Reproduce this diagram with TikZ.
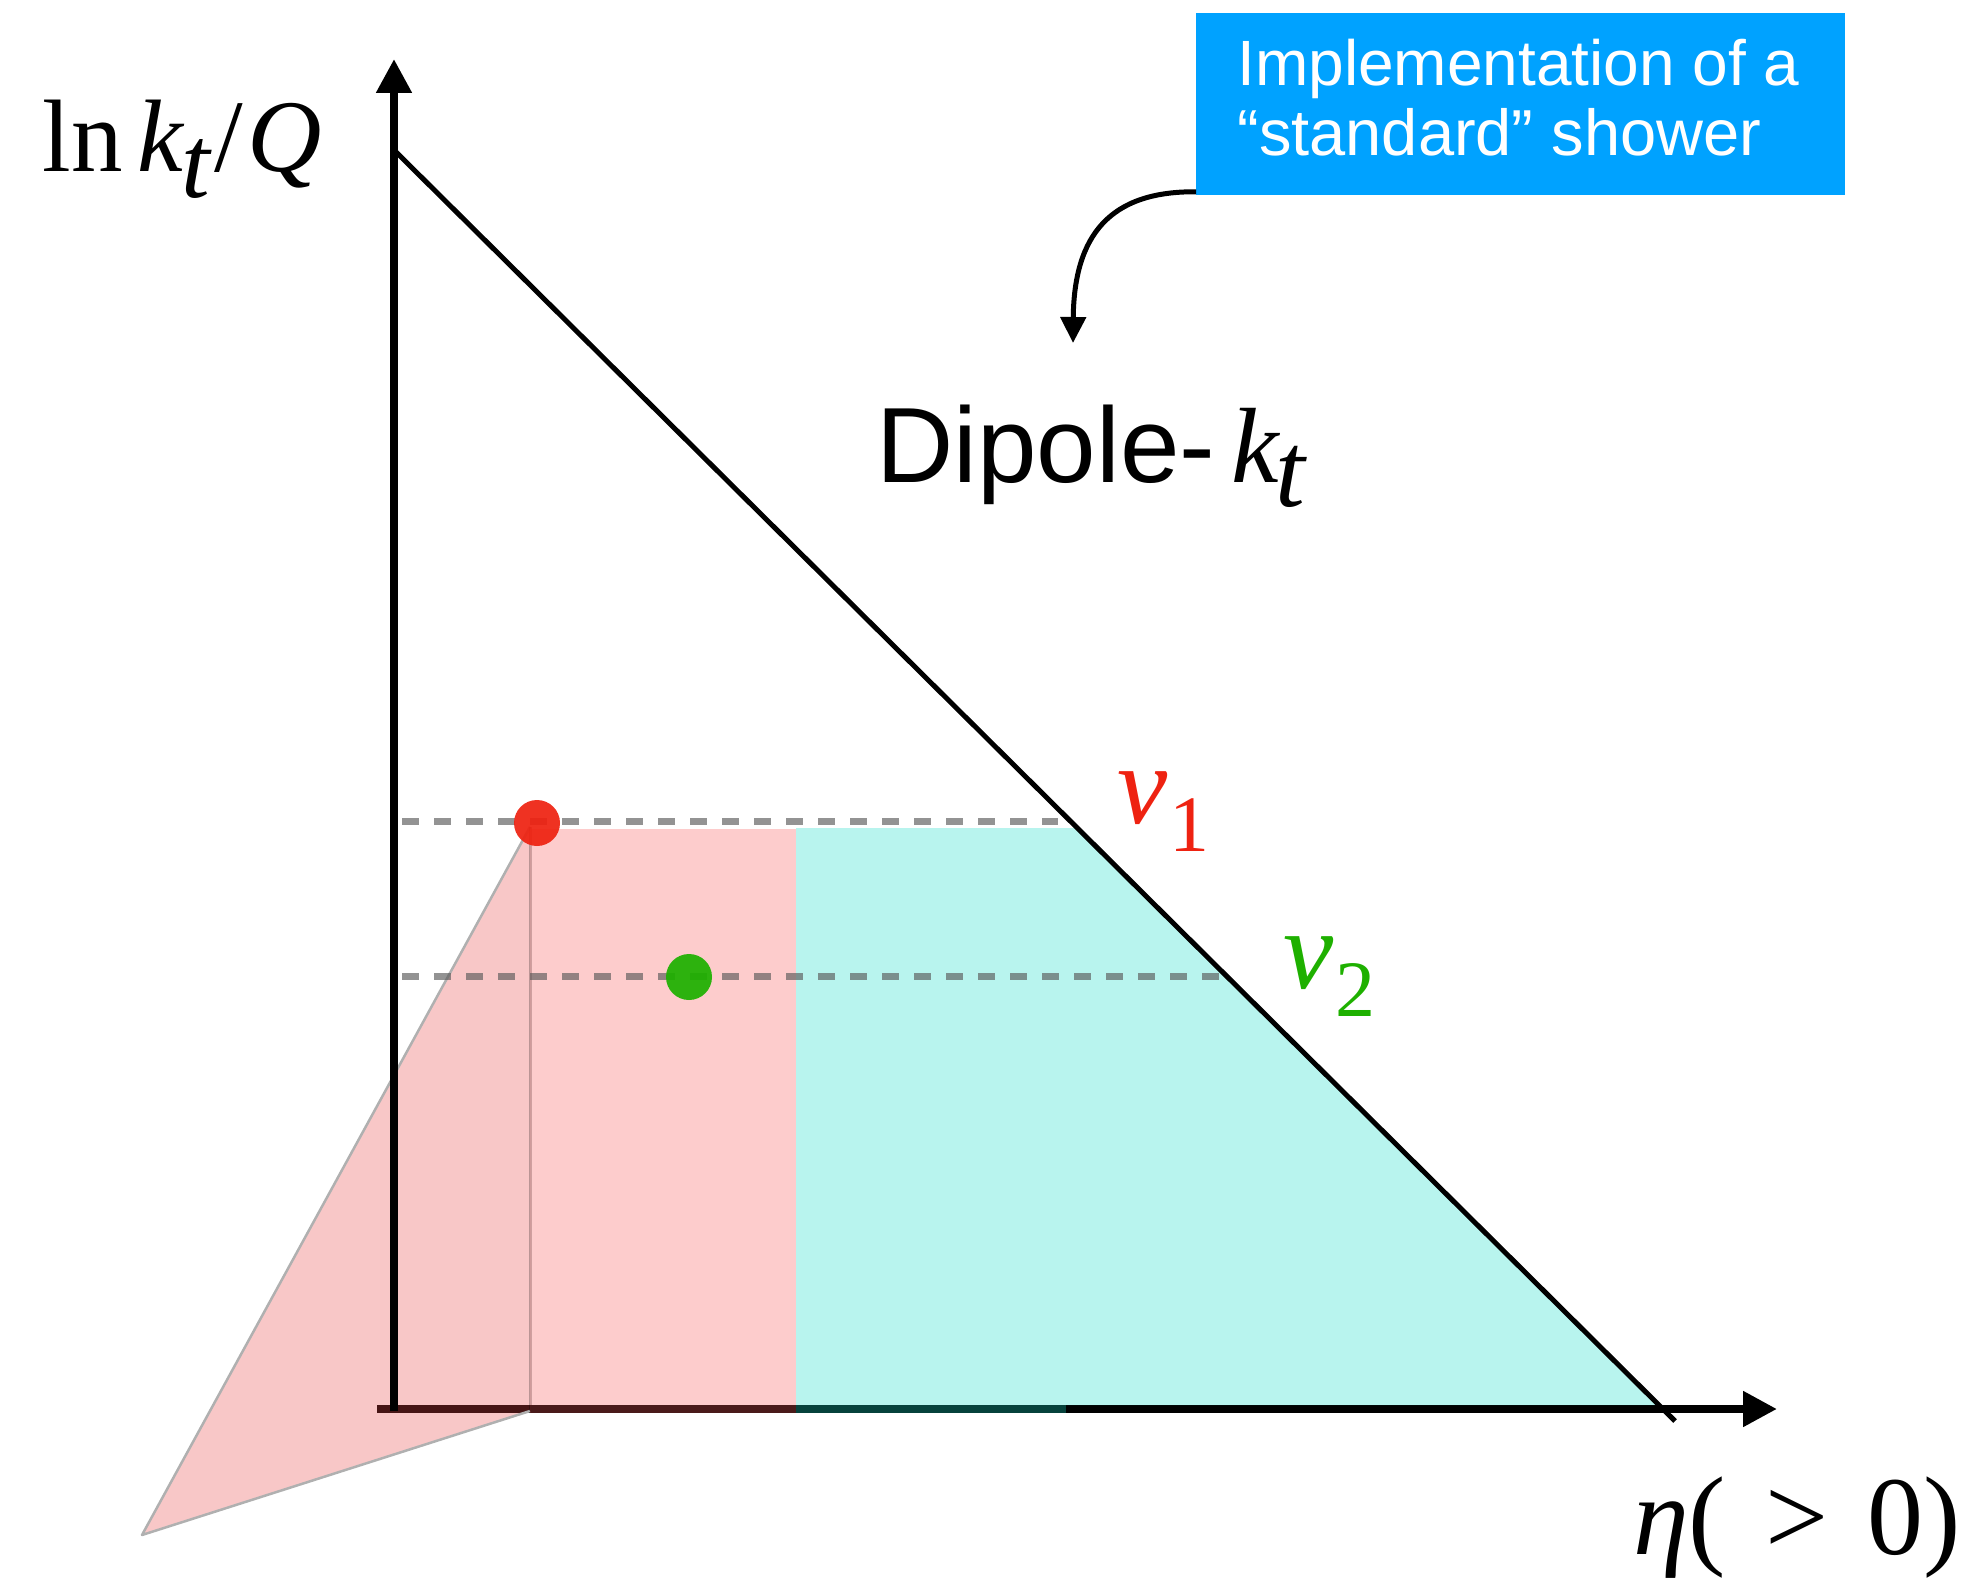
\documentclass[tikz,border=0pt]{standalone}
\usepackage{fontspec}
\setmainfont{Liberation Serif}
\newfontfamily\sansfam{Liberation Sans}
\usetikzlibrary{arrows.meta}
\definecolor{boxblue}{RGB}{0,162,255}
\definecolor{vred}{RGB}{238,34,17}
\definecolor{vgreen}{RGB}{30,176,0}
\definecolor{pinkfill}{RGB}{247,87,87}
\definecolor{trifill}{RGB}{232,70,70}
\definecolor{cyanfill}{RGB}{20,220,200}
\definecolor{outlinegray}{RGB}{176,176,176}
\definecolor{dashgray}{RGB}{89,89,89}
\begin{document}
\begin{tikzpicture}[x=0.5pt,y=-0.5pt,
  axisline/.style={line width=4pt,-{Triangle[length=17pt,width=17pt]}},
  dashline/.style={draw=dashgray,opacity=0.65,line width=3.5pt,dash pattern=on 8.5pt off 7.5pt},
  lbl/.style={inner sep=0pt,anchor=base west},
  dot/.style={circle,inner sep=0pt,minimum size=23pt,opacity=0.93}]
\useasboundingbox (0,0) rectangle (1972,1578);
% coordinates
\coordinate (xstart) at (377,1409);
\coordinate (xend) at (1777,1409);
\coordinate (ybot) at (394,1411);
\coordinate (ytop) at (394,59);
\coordinate (dA) at (394,150);
\coordinate (dB) at (1675,1421);
\coordinate (peak) at (530,827);
\coordinate (tipL) at (142,1535);
\coordinate (foot) at (530,1411);
\coordinate (h1a) at (402,821);
\coordinate (h1b) at (1058,821);
\coordinate (h2a) at (402,976);
\coordinate (h2b) at (1222,976);
\coordinate (tip) at (1073,343);
% x axis
\draw[axisline] (xstart) -- (xend);
% shaded regions
\fill[trifill,fill opacity=0.3] (peak) -- (tipL) -- (foot) -- cycle;
\draw[outlinegray,line width=1.25pt,line join=round] (peak) -- (tipL) -- (foot);
\draw[black,opacity=0.25,line width=1.5pt] (peak) -- (foot);
\fill[pinkfill,fill opacity=0.3] (530,829) rectangle (796,1413);
\fill[cyanfill,fill opacity=0.3] (796,828) rectangle (1066,1413);
\fill[cyanfill,fill opacity=0.3] (1066,828) -- (1077,828) -- (1659,1405) -- (1066,1405) -- cycle;
% dashed levels
\draw[dashline] (h1a) -- (h1b);
\draw[dashline] (h2a) -- (h2b);
% y axis and boundary
\draw[axisline] (ybot) -- (ytop);
\draw[line width=2.5pt] (dA) -- (dB);
% dots
\node[dot,fill=vred] (p1) at (537,823) {};
\node[dot,fill=vgreen] (p2) at (689,977) {};
% labels
\node[lbl,font=\fontsize{51.5pt}{60pt}\selectfont] (ylab) at (42,172)
  {ln\kern7.5pt\textit{k}\kern-1.5pt\raisebox{-13pt}{\textit{t}}\kern1pt/\kern2pt\textit{Q}};
\node[lbl,font=\fontsize{56pt}{64pt}\selectfont] (xlab) at (1633,1554)
  {\textit{η}(\hspace{0.35em}>\hspace{0.35em}0)};
\node[lbl,text=vred,font=\fontsize{56.5pt}{64pt}\selectfont] (v1) at (1117,823)
  {\textit{v}\kern1pt\raisebox{-14pt}{\fontsize{40pt}{46pt}\selectfont 1}};
\node[lbl,text=vgreen,font=\fontsize{56.5pt}{64pt}\selectfont] (v2) at (1283,988)
  {\textit{v}\kern1pt\raisebox{-14pt}{\fontsize{40pt}{46pt}\selectfont 2}};
\node[lbl,font=\sansfam\fontsize{53.5pt}{60pt}\selectfont] (dip) at (876,482)
  {Dipole-\kern8pt{\rmfamily\itshape k\kern-1.5pt\raisebox{-12pt}{t}}};
% box
\node[fill=boxblue,minimum width=324.5pt,minimum height=91pt,inner sep=0pt,anchor=north west] (box) at (1196,13) {};
\node[lbl,text=white,font=\sansfam\fontsize{32pt}{36pt}\selectfont] (bl1) at (1237,86) {Implementation of a};
\node[lbl,text=white,font=\sansfam\fontsize{32.5pt}{36pt}\selectfont] (bl2) at (1237,156) {“standard” shower};
\draw[line width=2.5pt,-{Triangle[length=13pt,width=12.5pt]}]
  ([yshift=2pt]box.south west) .. controls (1110,191) and (1074,235) .. (tip);
\end{tikzpicture}
\end{document}
